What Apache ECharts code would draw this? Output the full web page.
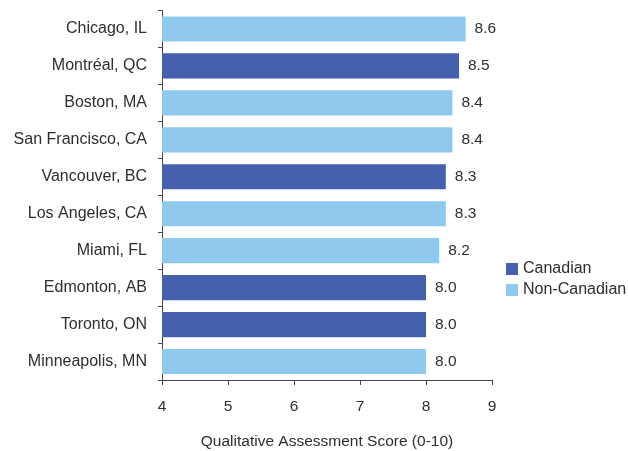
<!DOCTYPE html>
<html>
<head>
<meta charset="utf-8">
<script src="https://cdn.jsdelivr.net/npm/echarts@6/dist/echarts.min.js"></script>
<style>
  html, body { margin: 0; padding: 0; background: #fff; }
  #chart { width: 628px; height: 451px; }
</style>
</head>
<body>
<div id="chart"></div>
<script>
// Cities listed top to bottom
const cities = [
  'Chicago, IL', 'Montréal, QC', 'Boston, MA', 'San Francisco, CA', 'Vancouver, BC',
  'Los Angeles, CA', 'Miami, FL', 'Edmonton, AB', 'Toronto, ON', 'Minneapolis, MN'
];
const scores = [8.6, 8.5, 8.4, 8.4, 8.3, 8.3, 8.2, 8.0, 8.0, 8.0];
const isCanadian = [false, true, false, false, true, false, false, true, true, false];
const xTicks = [4, 5, 6, 7, 8, 9];

const COLOR_CA = '#4561ae';
const COLOR_NON = '#8fcaee';
const TEXT = '#2e2e2e';
const AXIS = '#444';
const FONT = 'Liberation Sans, Arial, sans-serif';

// Category axis runs bottom-up, so reverse for top-down order
const cats = cities.slice().reverse();
const canadianData = scores.map((v, i) => isCanadian[i] ? v : '-').reverse();
const nonCanadianData = scores.map((v, i) => isCanadian[i] ? '-' : v).reverse();

const labelOpt = {
  show: true,
  position: 'right',
  distance: 9,
  color: TEXT,
  fontFamily: FONT,
  fontSize: 15.5,
  formatter: p => Number(p.value).toFixed(1)
};

const chart = echarts.init(document.getElementById('chart'));
chart.setOption({
  animation: false,
  textStyle: { fontFamily: FONT },
  grid: {
    left: 162, top: 10.5, right: 136, bottom: 71,
    containLabel: false,
    outerBoundsMode: 'none'
  },
  legend: {
    orient: 'vertical',
    left: 501,
    top: 256,
    itemWidth: 12,
    itemHeight: 12,
    itemGap: 5,
    icon: 'rect',
    textStyle: { color: TEXT, fontSize: 16, fontFamily: FONT },
    data: ['Canadian', 'Non-Canadian']
  },
  xAxis: {
    type: 'value',
    min: xTicks[0],
    max: xTicks[xTicks.length - 1],
    interval: 1,
    splitLine: { show: false },
    axisLine: { show: true, lineStyle: { color: AXIS, width: 1 } },
    axisTick: { show: true, length: 5, lineStyle: { color: AXIS } },
    axisLabel: { color: TEXT, fontSize: 15.5, fontFamily: FONT, margin: 19 },
    name: 'Qualitative Assessment Score (0-10)',
    nameLocation: 'middle',
    nameGap: 54,
    nameTextStyle: { color: TEXT, fontSize: 15.5, fontFamily: FONT }
  },
  yAxis: {
    type: 'category',
    data: cats,
    axisLine: { show: true, lineStyle: { color: AXIS, width: 1 } },
    axisTick: { show: true, length: 4, lineStyle: { color: AXIS } },
    axisLabel: { color: TEXT, fontSize: 16, fontFamily: FONT, margin: 15 }
  },
  series: [
    {
      name: 'Canadian',
      type: 'bar',
      stack: 'score',
      barCategoryGap: '32%',
      itemStyle: { color: COLOR_CA },
      label: labelOpt,
      data: canadianData
    },
    {
      name: 'Non-Canadian',
      type: 'bar',
      stack: 'score',
      barCategoryGap: '32%',
      itemStyle: { color: COLOR_NON },
      label: labelOpt,
      data: nonCanadianData
    }
  ]
});
</script>
</body>
</html>
